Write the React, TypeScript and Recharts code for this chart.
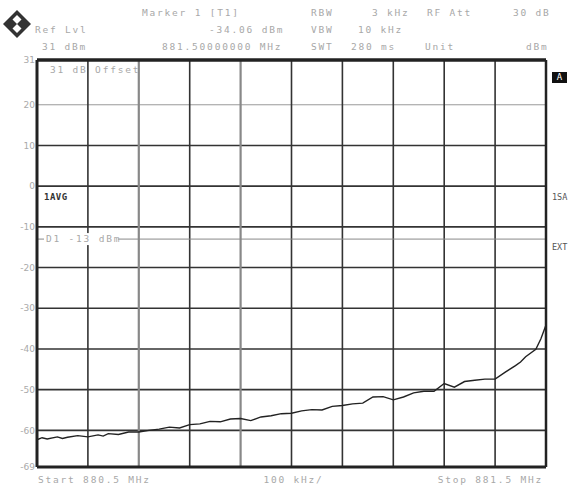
import React from 'react';
import {
  LineChart,
  Line,
  XAxis,
  YAxis,
  ReferenceLine,
} from 'recharts';

// trace, 880.5 .. 881.5 MHz
const freqs = [
  880.5, 880.51, 880.52, 880.54, 880.55, 880.56, 880.58, 880.6, 880.62, 880.63, 880.64, 880.66, 880.68,
  880.7, 880.72, 880.74, 880.76, 880.78, 880.8, 880.82, 880.84, 880.86, 880.88,
  880.9, 880.92, 880.94, 880.96, 880.98, 881.0, 881.02, 881.04, 881.06, 881.08,
  881.1, 881.12, 881.14, 881.16, 881.18, 881.2, 881.22, 881.24, 881.26, 881.28,
  881.3, 881.32, 881.34, 881.36, 881.38, 881.4, 881.42, 881.44, 881.45, 881.46, 881.48,
  881.49, 881.5,
];
const levels = [
  -62.3, -61.8, -62.1, -61.6, -62.0, -61.7, -61.3, -61.6, -61.1, -61.4, -60.8, -61.0, -60.4,
  -60.4, -60.0, -59.7, -59.2, -59.4, -58.6, -58.4, -57.8, -57.9, -57.2,
  -57.1, -57.6, -56.7, -56.4, -55.9, -55.8, -55.2, -54.9, -55.0, -54.1,
  -53.9, -53.5, -53.3, -51.8, -51.7, -52.5, -51.8, -50.8, -50.4, -50.4,
  -48.5, -49.4, -48.0, -47.7, -47.4, -47.4, -45.7, -44.1, -43.2, -41.9, -40.1,
  -37.5, -34.1,
];

const yTicks = [31, 20, 10, 0, -10, -20, -30, -40, -50, -60, -69];
const hGrid = [20, 10, 0, -10, -20, -30, -40, -50, -60];
const vGrid = [880.6, 880.7, 880.8, 880.9, 881.0, 881.1, 881.2, 881.3, 881.4];
const xTicks = [880.5, 881.0, 881.5];
const xTickText = ['Start 880.5 MHz', '100 kHz/', 'Stop 881.5 MHz'];

const header = [
  { text: 'Marker 1 [T1]', x: 142, y: 13 },
  { text: 'RBW', x: 311, y: 13 },
  { text: '3 kHz', x: 372, y: 13 },
  { text: 'RF Att', x: 427, y: 13 },
  { text: '30 dB', x: 513, y: 13 },
  { text: 'Ref Lvl', x: 35, y: 30 },
  { text: '-34.06 dBm', x: 209, y: 30 },
  { text: 'VBW', x: 311, y: 30 },
  { text: '10 kHz', x: 358, y: 30 },
  { text: '31 dBm', x: 42, y: 47 },
  { text: '881.50000000 MHz', x: 162, y: 47 },
  { text: 'SWT', x: 311, y: 47 },
  { text: '280 ms', x: 351, y: 47 },
  { text: 'Unit', x: 425, y: 47 },
  { text: 'dBm', x: 526, y: 47 },
];

const data = freqs.map((f, i) => ({ f, level: levels[i] }));

const mono = '"DejaVu Sans Mono", monospace';
const txt: React.CSSProperties = {
  position: 'absolute',
  fontFamily: mono,
  fontSize: 9.5,
  letterSpacing: 1.8,
  lineHeight: '12px',
  color: '#a8a8a8',
  whiteSpace: 'pre',
};

const XTick = (props: any) => {
  const { x, y, index } = props;
  const anchor = index === 0 ? 'start' : index === 1 ? 'middle' : 'end';
  const dx = index === 0 ? 1 : index === 1 ? 2 : -3;
  return (
    <text
      x={x + dx}
      y={y + 8}
      textAnchor={anchor}
      fontFamily={mono}
      fontSize={9.5}
      letterSpacing={1.8}
      fill="#a8a8a8"
    >
      {xTickText[index]}
    </text>
  );
};

const D1Label = (props: any) => {
  const { viewBox } = props;
  const x = viewBox.x + 9;
  const y = viewBox.y;
  return (
    <g>
      <rect x={x - 2} y={y - 6} width={74} height={12} fill="#fff" />
      <text x={x} y={y + 3} fontFamily={mono} fontSize={9.5} letterSpacing={1.8} fill="#a8a8a8">
        D1 -13 dBm
      </text>
    </g>
  );
};

export default function App() {
  return (
    <div style={{ position: 'absolute', left: 0, top: 0, width: 570, height: 488, background: '#fff' }}>
      <LineChart width={570} height={488} data={data} margin={{ top: 60, right: 24, bottom: 0, left: 0 }}>
        <XAxis
          dataKey="f"
          type="number"
          domain={[880.5, 881.5]}
          ticks={xTicks}
          axisLine={false}
          tickLine={false}
          height={21}
          tick={<XTick />}
          interval={0}
        />
        <YAxis
          type="number"
          domain={[-69, 31]}
          ticks={yTicks}
          allowDataOverflow
          axisLine={false}
          tickLine={false}
          tickSize={0}
          tickMargin={2}
          width={37}
          interval={0}
          tick={{ fill: '#aaa', fontSize: 9, fontFamily: 'DejaVu Sans' }}
        />
        {hGrid.map((v) => (
          <ReferenceLine key={'h' + v} y={v} stroke={v === 20 ? '#999' : '#333'} strokeWidth={v === 20 ? 1 : 1.6} />
        ))}
        {vGrid.map((v) => (
          <ReferenceLine
            key={'v' + v}
            x={v}
            stroke={v === 880.7 || v === 880.9 ? '#888' : '#333'}
            strokeWidth={v === 880.7 || v === 880.9 ? 2.2 : 1.6}
          />
        ))}
        <ReferenceLine y={-13} stroke="#888" strokeWidth={1} label={<D1Label />} />
        <ReferenceLine y={31} stroke="#222" strokeWidth={3.5} />
        <ReferenceLine y={-69} stroke="#222" strokeWidth={3} />
        <ReferenceLine x={880.5} stroke="#222" strokeWidth={3} />
        <ReferenceLine x={881.5} stroke="#222" strokeWidth={2.5} />
        <Line
          type="linear"
          dataKey="level"
          stroke="#222"
          strokeWidth={1.4}
          dot={false}
          isAnimationActive={false}
        />
      </LineChart>

      {header.map((h) => (
        <div key={h.text + h.x} style={{ ...txt, left: h.x, top: h.y - 6 }}>
          {h.text}
        </div>
      ))}

      <svg style={{ position: 'absolute', left: 2, top: 9 }} width={30} height={30}>
        <polygon points="15,1 29,15 15,29 1,15" fill="#333" />
        <polygon points="15,6 24,15 15,24 6,15" fill="#fff" />
        <polygon points="10,10 15,15 10,20 5,15" fill="#333" />
        <polygon points="20,10 25,15 20,20 15,15" fill="#333" />
      </svg>

      <div style={{ ...txt, left: 50, top: 64 }}>31 dB Offset</div>
      <div style={{ ...txt, left: 44, top: 191, color: '#333', fontWeight: 'bold', fontSize: 9, letterSpacing: 0.5 }}>1AVG</div>
      <div style={{ ...txt, left: 552, top: 72, background: '#111', color: '#fff', width: 15, textAlign: 'center', fontSize: 9, lineHeight: '11px', letterSpacing: 0 }}>A</div>
      <div style={{ ...txt, left: 552, top: 191, color: '#555', fontSize: 8.5, letterSpacing: 0 }}>1SA</div>
      <div style={{ ...txt, left: 552, top: 241, color: '#555', fontSize: 8.5, letterSpacing: 0 }}>EXT</div>
    </div>
  );
}
